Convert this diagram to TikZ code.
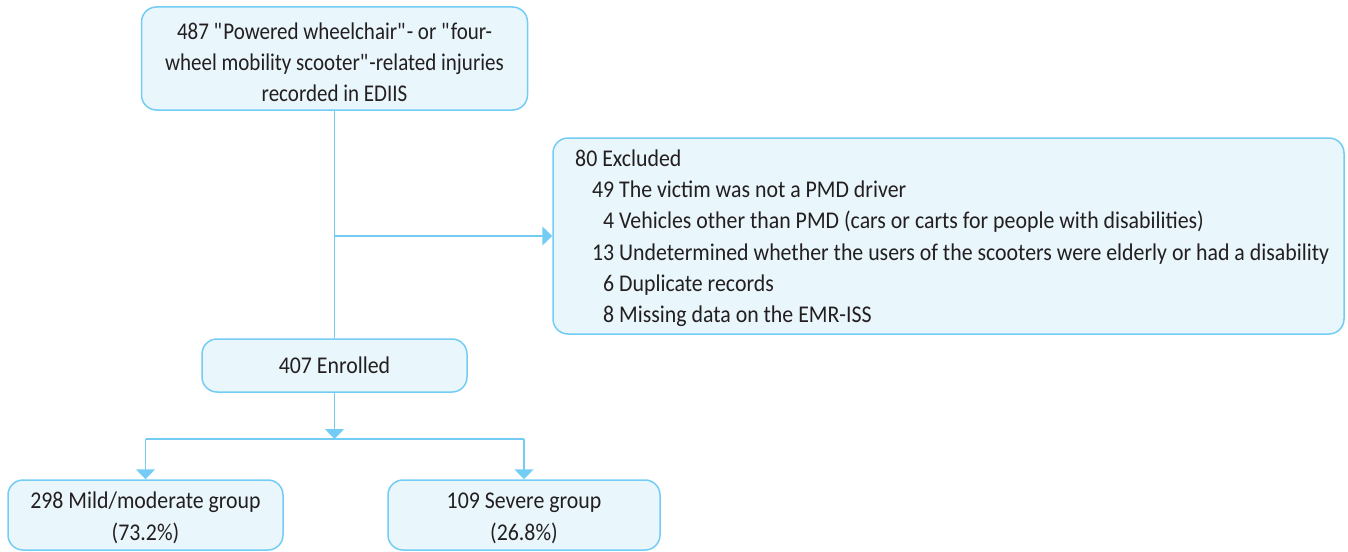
\documentclass[tikz,border=0pt]{standalone}
\usepackage{fontspec}
\setmainfont{Carlito}[FakeStretch=0.91]
\newfontfamily\topfont{Carlito}[FakeStretch=0.875]
\usetikzlibrary{arrows.meta}
\definecolor{bordblue}{RGB}{115,204,244}
\definecolor{fillblue}{RGB}{233,246,252}
\definecolor{txt}{RGB}{35,31,32}
\newcommand\numbx[1]{\makebox[22pt][r]{#1}}
\newcommand\lowerit[2]{\raisebox{-#1}[\height][\depth]{#2}}
\begin{document}
\begin{tikzpicture}[x=1pt,y=-1pt,
  box/.style={draw=bordblue, fill=fillblue, line width=1.5pt, rounded corners=15pt, inner sep=0pt, text=txt},
  conn/.style={draw=bordblue, line width=1.5pt},
  arr/.style={conn, -{Triangle[length=10pt,width=19pt]}},
  lbl/.style={font=\fontsize{24}{31}\selectfont, text=txt, inner sep=0pt},
]
\useasboundingbox (0,0) rectangle (1348,551);
\node[box, minimum width=386pt, minimum height=103pt, font=\topfont\fontsize{24}{31}\selectfont] (top) at (334.5,58.5)
  {\lowerit{3.5pt}{\parbox{380pt}{\centering 487 \textquotedbl Powered wheelchair\textquotedbl- or \textquotedbl four-\\wheel mobility scooter\textquotedbl-related injuries\\recorded in EDIIS}}};
\node[box, minimum width=791pt, minimum height=196pt] (excl) at (948.5,236) {};
\node[box, minimum width=265pt, minimum height=53pt, font=\fontsize{24}{31}\selectfont] (enr) at (334.5,365.5) {407 Enrolled};
\node[box, minimum width=275pt, minimum height=70pt, font=\fontsize{24}{32}\selectfont] (mild) at (145.5,515)
  {\lowerit{3pt}{\parbox{270pt}{\centering 298 Mild/moderate group\\(73.2\%)}}};
\node[box, minimum width=272pt, minimum height=70pt, font=\fontsize{24}{32}\selectfont] (sev) at (524,515)
  {\lowerit{3pt}{\parbox{268pt}{\centering 109 Severe group\\(26.8\%)}}};
% excluded text
\node[lbl, anchor=base west] (e0) at (575,166.5) {80 Excluded};
\node[lbl, anchor=base west] (e1) at (592,197.7) {\numbx{49} The victim was not a PMD driver};
\node[lbl, anchor=base west] (e2) at (592,228.9) {\numbx{4} Vehicles other than PMD (cars or carts for people with disabilities)};
\node[lbl, anchor=base west] (e3) at (592,260.1) {\numbx{13} Undetermined whether the users of the scooters were elderly or had a disability};
\node[lbl, anchor=base west] (e4) at (592,291.3) {\numbx{6} Duplicate records};
\node[lbl, anchor=base west] (e5) at (592,322.5) {\numbx{8} Missing data on the EMR-ISS};
% connectors
\coordinate (br) at (334.5,236);
\coordinate (split) at (334.5,439);
\draw[conn] (top.south) -- (enr.north);
\draw[arr] (br) -- (excl.west);
\draw[arr] (enr.south) -- (split);
\draw[conn] (mild.north |- split) -- (sev.north |- split);
\draw[arr] (mild.north |- split) -- (mild.north);
\draw[arr] (sev.north |- split) -- (sev.north);
\end{tikzpicture}
\end{document}
